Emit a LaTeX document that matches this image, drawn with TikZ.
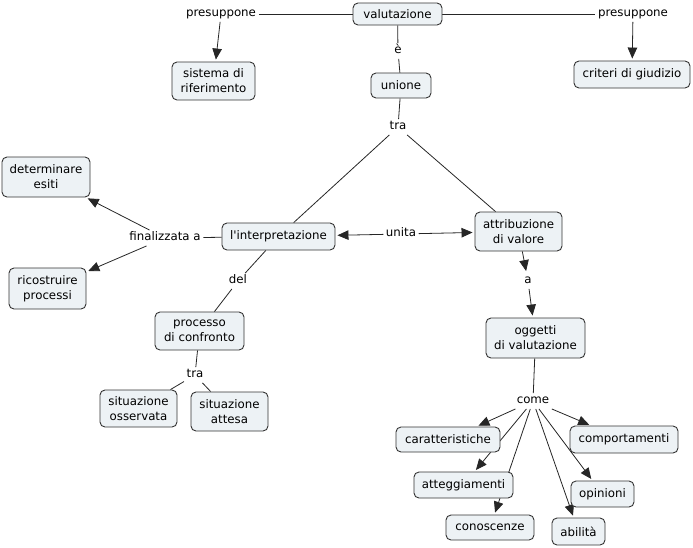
\documentclass[tikz,border=0pt]{standalone}
\usepackage{fontspec}
\newfontfamily\vf{DejaVu Sans}
\usetikzlibrary{arrows.meta}
\definecolor{boxfill}{RGB}{237,242,245}
\pgfdeclarelayer{bg}
\pgfsetlayers{bg,main}
\begin{document}
\begin{tikzpicture}[x=1pt,y=-1pt,
  box/.style={draw=black!80, fill=boxfill, rounded corners=5pt, line width=0.9pt, align=center,
    font=\vf\fontsize{11.8}{15}\selectfont, inner sep=0pt},
  lab/.style={font=\vf\fontsize{11.8}{15}\selectfont, inner sep=2.5pt, text height=8pt, text depth=2.5pt},
  conn/.style={draw=black!85, line width=0.8pt},
  arr/.style={conn, -{Triangle[length=11pt,width=9.5pt]}, shorten >=2pt}]
\useasboundingbox (0,0) rectangle (693,547);
% concepts
\node[box, minimum width=89, minimum height=22] (val) at (397.5,14) {valutazione};
\node[box, minimum width=83, minimum height=38] (sis) at (213.5,81) {sistema di\\riferimento};
\node[box, minimum width=116, minimum height=27] (cri) at (632,74.5) {criteri di giudizio};
\node[box, minimum width=60, minimum height=25] (uni) at (401,85.5) {unione};
\node[box, minimum width=88, minimum height=40] (det) at (46,177) {determinare\\esiti};
\node[box, minimum width=113, minimum height=27] (int) at (278.5,236.5) {l\textquotesingle interpretazione};
\node[box, minimum width=87, minimum height=39] (att) at (518.5,231.5) {attribuzione\\di valore};
\node[box, minimum width=77, minimum height=41] (ric) at (47.5,288.5) {ricostruire\\processi};
\node[box, minimum width=89, minimum height=38] (pro) at (199.5,331) {processo\\di confronto};
\node[box, minimum width=99, minimum height=40] (ogg) at (535.5,338) {oggetti\\di valutazione};
\node[box, minimum width=77, minimum height=37] (sos) at (138.5,408.5) {situazione\\osservata};
\node[box, minimum width=77, minimum height=39] (sat) at (229.5,411.5) {situazione\\attesa};
\node[box, minimum width=104, minimum height=25] (car) at (448,439.5) {caratteristiche};
\node[box, minimum width=108, minimum height=27] (com) at (624,439.5) {comportamenti};
\node[box, minimum width=99, minimum height=26] (atg) at (463.5,485) {atteggiamenti};
\node[box, minimum width=63, minimum height=26] (opi) at (602.5,494) {opinioni};
\node[box, minimum width=88, minimum height=25] (con) at (490,527.5) {conoscenze};
\node[box, minimum width=53, minimum height=27] (abi) at (578.5,531.5) {abilità};
% linking phrases
\node[lab] (p1) at (221,14) {presuppone};
\node[lab] (p2) at (633,14) {presuppone};
\node[lab] (e1) at (398,51) {è};
\node[lab] (t1) at (398,127) {tra};
\node[lab] (fin) at (165,238) {finalizzata a};
\node[lab] (un) at (401,234) {unita};
\node[lab] (a1) at (528,281) {a};
\node[lab] (del) at (238,281) {del};
\node[lab] (t2) at (195,375) {tra};
\node[lab] (come) at (533,401) {come};
% connectors
\begin{pgfonlayer}{bg}
\draw[conn] (val) -- (p1);
\draw[arr] (p1) -- (sis);
\draw[conn] (val) -- (p2);
\draw[arr] (p2) -- (cri);
\draw[conn] (val) -- (e1);
\draw[conn] (e1) -- (uni);
\draw[conn] (uni) -- (t1);
\draw[conn] (t1) -- (int);
\draw[conn] (t1) -- (att);
\draw[conn] (int) -- (fin);
\draw[arr] (fin) -- (det);
\draw[arr] (fin) -- (ric);
\draw[arr] (un) -- (int);
\draw[arr] (un) -- (att);
\draw[arr] (att) -- (a1);
\draw[arr] (a1) -- (ogg);
\draw[conn] (int) -- (del);
\draw[conn] (del) -- (pro);
\draw[conn] (pro) -- (t2);
\draw[conn] (t2) -- (sos);
\draw[conn] (t2) -- (sat);
\draw[conn] (ogg) -- (come);
\draw[arr] (come) -- (car);
\draw[arr] (come) -- (com);
\draw[arr] (come) -- (atg);
\draw[arr] (come) -- (con);
\draw[arr] (come) -- (abi);
\draw[arr] (come) -- (opi);
\end{pgfonlayer}
\end{tikzpicture}
\end{document}
